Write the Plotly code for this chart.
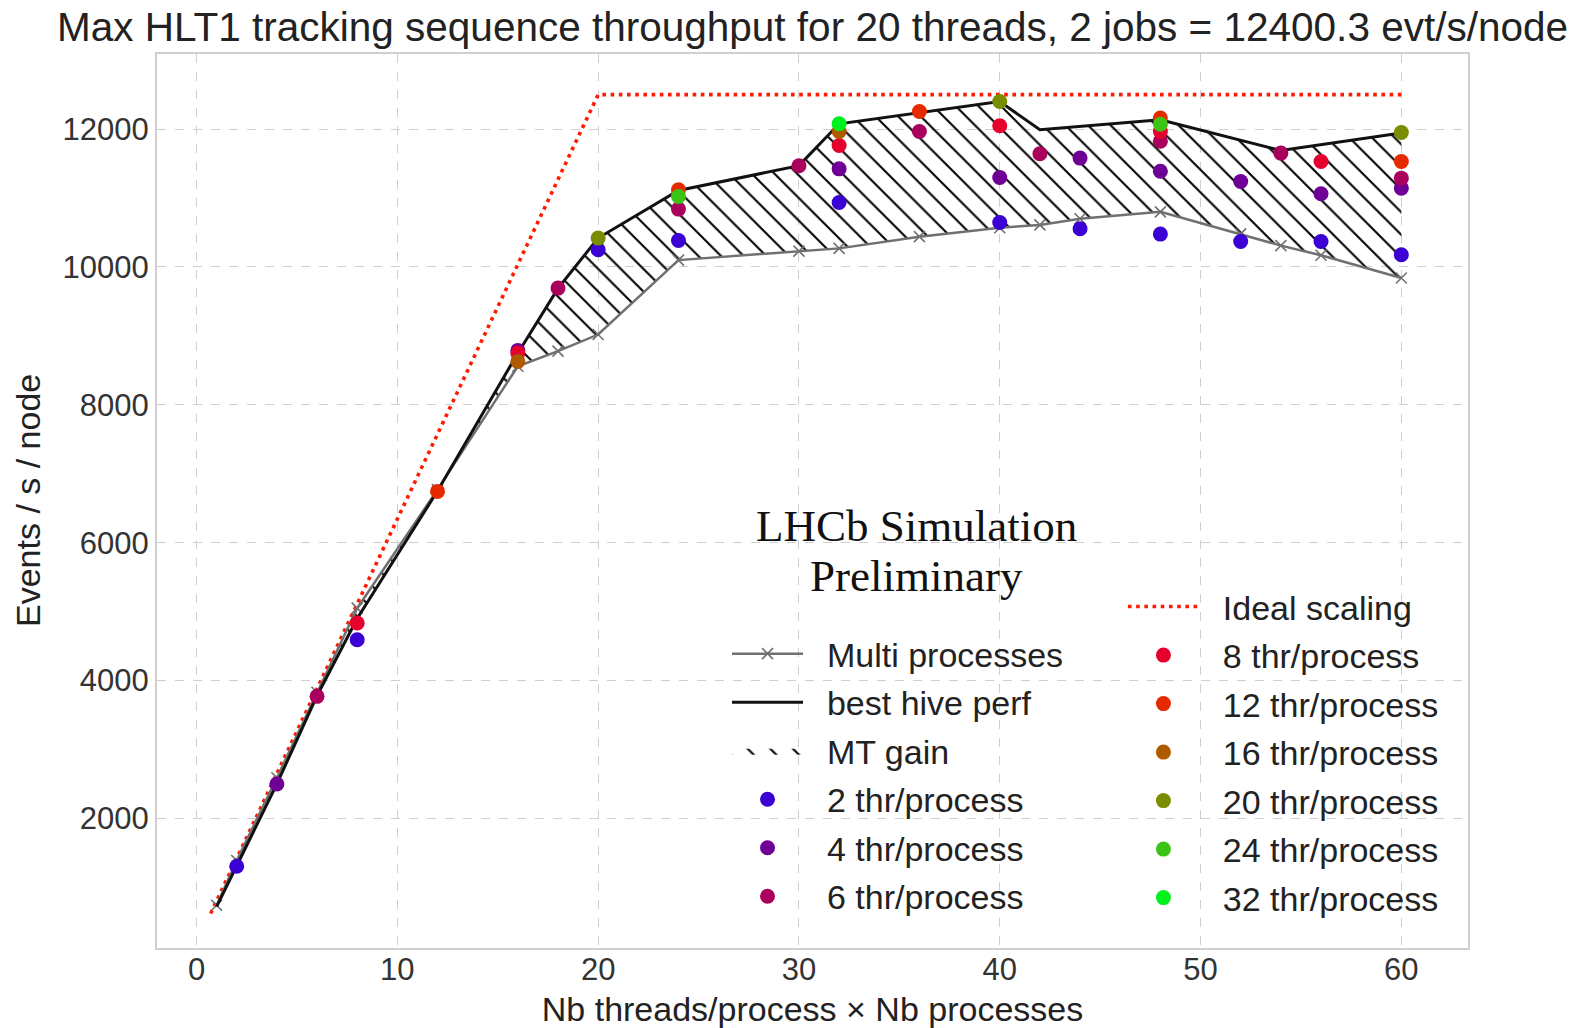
import plotly.graph_objects as go

# ---------------- data ----------------
ideal_x = [0.7, 20, 60]
ideal_y = [620, 12500, 12500]

multi_x = [1, 2, 4, 6, 8, 12, 16, 18, 20, 24, 30, 32, 36, 40, 42, 44, 48, 52, 54, 56, 60]
multi_y = [740, 1390, 2590, 3830, 5050, 6770, 8560, 8780, 9020, 10100, 10230, 10270,
           10440, 10570, 10610, 10700, 10800, 10480, 10310, 10170, 9840]

best_x = [1, 2, 4, 6, 8, 12, 16, 18, 20, 24, 30, 32, 36, 40, 42, 48, 54, 60]
best_y = [720, 1310, 2500, 3780, 4900, 6750, 8750, 9690, 10420, 11110, 11470, 12077,
          12240, 12400, 11990, 12135, 11690, 11945]

thr_labels = ["2 thr/process", "4 thr/process", "6 thr/process", "8 thr/process",
              "12 thr/process", "16 thr/process", "20 thr/process", "24 thr/process",
              "32 thr/process"]
thr_x = [
    [2, 8, 20, 24, 32, 40, 44, 48, 52, 56, 60],
    [4, 16, 32, 40, 44, 48, 52, 56, 60],
    [6, 18, 24, 30, 36, 42, 48, 54, 60],
    [8, 16, 32, 40, 48, 56],
    [12, 24, 36, 48, 60],
    [16, 32],
    [20, 40, 60],
    [24, 48],
    [32],
]
thr_y = [
    [1305, 4593, 10250, 10384, 10935, 10645, 10554, 10477, 10370, 10370, 10177],
    [2500, 8790, 11424, 11298, 11580, 11390, 11240, 11062, 11144],
    [3771, 9694, 10840, 11468, 11965, 11642, 11825, 11652, 11289],
    [4835, 8751, 11762, 12048, 11965, 11530],
    [6744, 11120, 12255, 12160, 11530],
    [8630, 11965],
    [10419, 12400, 11951],
    [11023, 12070],
    [12077],
]
thr_colors = ["#3a00d4", "#6e0096", "#a8005c", "#e6002e", "#e62a00",
              "#b05a00", "#7a8c00", "#3cc414", "#00f01e"]

x_ticks = [0, 10, 20, 30, 40, 50, 60]
y_ticks = [2000, 4000, 6000, 8000, 10000, 12000]

SANS = "Liberation Sans, Arial, sans-serif"
SERIF = "Liberation Serif, Times New Roman, serif"
PAD = "\u00a0\u00a0"

fig = go.Figure()

fig.add_trace(go.Scatter(
    x=ideal_x, y=ideal_y, mode="lines", name=PAD + "Ideal scaling",
    line=dict(color="#ff1a00", width=3.6, dash="3.6px,4.6px"),
    legend="legend2", legendgroup="ideal", legendrank=1))

fig.add_trace(go.Scatter(
    x=multi_x, y=multi_y, mode="lines+markers", name=PAD + "Multi processes",
    line=dict(color="#707070", width=2.5),
    marker=dict(symbol="x-thin", size=11, line=dict(color="#707070", width=1.6)),
    legend="legend", legendgroup="multi", legendrank=1))

fig.add_trace(go.Scatter(
    x=best_x, y=best_y, mode="lines", name=PAD + "MT gain",
    line=dict(width=0, color="rgba(0,0,0,0)"),
    fill="tonexty", fillcolor="rgba(0,0,0,0)",
    fillpattern=dict(shape="\\", fgcolor="#000000", bgcolor="rgba(0,0,0,0)",
                     fgopacity=1, size=16, solidity=0.13, fillmode="overlay"),
    legend="legend", legendgroup="mt", legendrank=3))

fig.add_trace(go.Scatter(
    x=best_x, y=best_y, mode="lines", name=PAD + "best hive perf",
    line=dict(color="#111111", width=3),
    legend="legend", legendgroup="best", legendrank=2))

for i, (lab, xs, ys, col) in enumerate(zip(thr_labels, thr_x, thr_y, thr_colors)):
    leg = "legend" if i < 3 else "legend2"
    fig.add_trace(go.Scatter(
        x=xs, y=ys, mode="markers", name=PAD + lab,
        marker=dict(color=col, size=15, line=dict(width=0)),
        legend=leg, legendgroup=lab, legendrank=4 + i))

fig.add_annotation(
    text="LHCb Simulation", xref="paper", yref="paper",
    x=(916 - 157) / 1311, y=(948 - 526) / 894, xanchor="center", yanchor="middle",
    showarrow=False, font=dict(family=SERIF, size=45, color="#111111"))
fig.add_annotation(
    text="Preliminary", xref="paper", yref="paper",
    x=(916 - 157) / 1311, y=(948 - 576) / 894, xanchor="center", yanchor="middle",
    showarrow=False, font=dict(family=SERIF, size=45, color="#111111"))

# y-axis title
fig.add_annotation(
    text="Events / s / node", xref="paper", yref="paper",
    x=(28 - 157) / 1311, y=(948 - 501) / 894, xanchor="center", yanchor="middle",
    textangle=-90, showarrow=False, font=dict(family=SANS, size=34, color="#222222"))

legend_common = dict(
    font=dict(family=SANS, size=34, color="#222222"),
    bgcolor="rgba(0,0,0,0)", borderwidth=0, itemwidth=71,
    tracegroupgap=1.3, traceorder="grouped",
    xref="paper", yref="paper", xanchor="left", yanchor="top")

fig.update_layout(
    width=1582, height=1028,
    margin=dict(l=157, r=114, t=54, b=80, autoexpand=False),
    paper_bgcolor="white", plot_bgcolor="white",
    title=dict(text="Max HLT1 tracking sequence throughput for 20 threads, 2 jobs = 12400.3 evt/s/node",
               x=0.5, xref="paper", xanchor="center", y=1 - 27 / 1028, yref="container",
               yanchor="middle", font=dict(family=SANS, size=40.5, color="#222222")),
    showlegend=True,
    legend=dict(x=0.4348, y=0.3612, **legend_common),
    legend2=dict(x=0.7368, y=0.4139, **legend_common),
    xaxis=dict(range=[-1.97, 63.32], tickmode="array", tickvals=x_ticks,
               ticktext=[str(v) for v in x_ticks], automargin=False,
               showgrid=True, gridcolor="#cfcfcf", griddash="dash", gridwidth=1.2,
               zeroline=False, showline=True, linecolor="#d0d0d0", linewidth=2, mirror=True,
               ticks="", ticklabelstandoff=-7,
               tickfont=dict(family=SANS, size=31, color="#333333"),
               title=dict(text="Nb threads/process × Nb processes", standoff=12,
                          font=dict(family=SANS, size=34, color="#222222"))),
    yaxis=dict(range=[120, 13090], tickmode="array", tickvals=y_ticks,
               ticktext=[str(v) for v in y_ticks], automargin=False,
               showgrid=True, gridcolor="#cfcfcf", griddash="dash", gridwidth=1.2,
               zeroline=False, showline=True, linecolor="#d0d0d0", linewidth=2, mirror=True,
               ticks="",
               tickfont=dict(family=SANS, size=31, color="#333333")),
)

fig.write_html("out.html")
